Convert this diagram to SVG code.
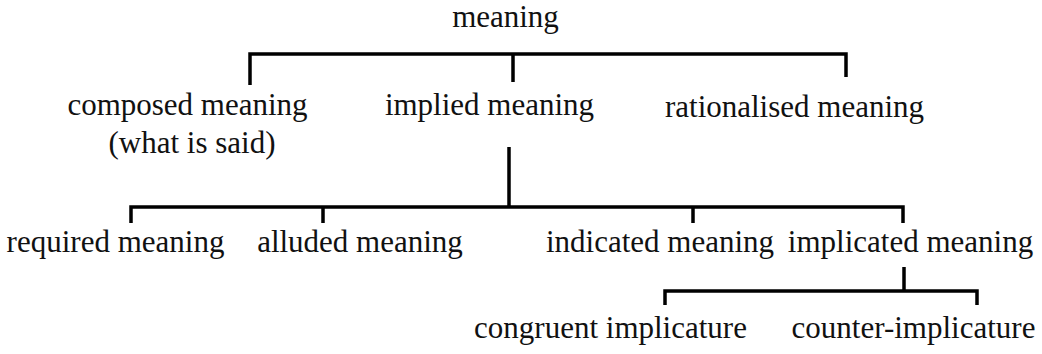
<svg xmlns="http://www.w3.org/2000/svg" width="1042" height="354" viewBox="0 0 1042 354">
<style>
text{font-family:"Liberation Serif","Times New Roman",serif;font-size:31px;fill:#111;text-anchor:middle}
.c{fill:none;stroke:#000;stroke-width:3.5;stroke-linecap:butt;stroke-linejoin:miter}
</style>
<rect width="1042" height="354" fill="#fff"/>
<g id="connectors">
<path class="c" d="M250 85V54H846V77M513 54V82"/>
<path class="c" d="M509 147V207M131 223V207H903V223M323 207V223M693 207V223"/>
<path class="c" d="M904 267V291M665 305V291H977V305"/>
</g>
<g id="n-meaning"><text x="505.5" y="27">meaning</text></g>
<g id="n-composed"><text x="187.5" y="115">composed meaning</text><text x="192" y="153">(what is said)</text></g>
<g id="n-implied"><text x="489.5" y="115">implied meaning</text></g>
<g id="n-rationalised"><text x="794.5" y="117">rationalised meaning</text></g>
<g id="n-required"><text x="115.5" y="252">required meaning</text></g>
<g id="n-alluded"><text x="360" y="252">alluded meaning</text></g>
<g id="n-indicated"><text x="660" y="252">indicated meaning</text></g>
<g id="n-implicated"><text x="910.5" y="252">implicated meaning</text></g>
<g id="n-congruent"><text x="610.5" y="338">congruent implicature</text></g>
<g id="n-counter"><text x="913.5" y="338">counter-implicature</text></g>
</svg>
